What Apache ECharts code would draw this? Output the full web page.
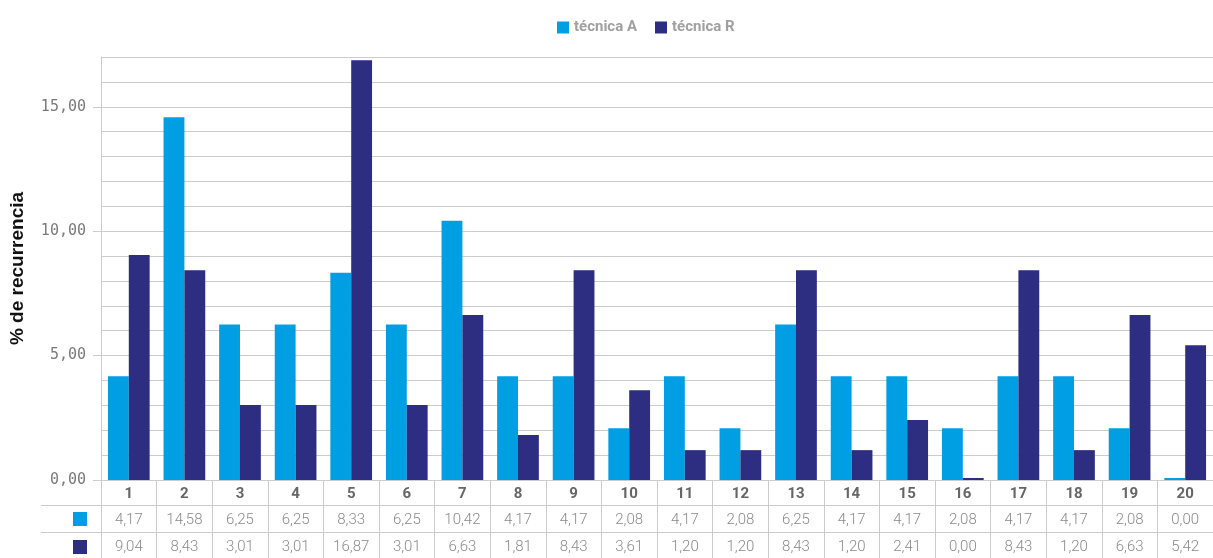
<!DOCTYPE html>
<html>
<head>
<meta charset="utf-8">
<script src="https://cdn.jsdelivr.net/npm/echarts@6/dist/echarts.min.js"></script>
<style>
  html, body { margin: 0; padding: 0; background: #fff; }
  #chart { width: 1213px; height: 558px; }
</style>
</head>
<body>
<div id="chart"></div>
<script>
// Recurrence (%) per position for the two techniques
const categories = ['1','2','3','4','5','6','7','8','9','10','11','12','13','14','15','16','17','18','19','20'];
const tecnicaA = [4.17, 14.58, 6.25, 6.25, 8.33, 6.25, 10.42, 4.17, 4.17, 2.08, 4.17, 2.08, 6.25, 4.17, 4.17, 2.08, 4.17, 4.17, 2.08, 0.00];
const tecnicaR = [9.04, 8.43, 3.01, 3.01, 16.87, 3.01, 6.63, 1.81, 8.43, 3.61, 1.20, 1.20, 8.43, 1.20, 2.41, 0.00, 8.43, 1.20, 6.63, 5.42];
const yTickValues = [0, 5, 10, 15];
const seriesNames = ['técnica A', 'técnica R'];
const yAxisTitle = '% de recurrencia';

const COLOR_A = '#009fe3';
const COLOR_R = '#2d2d82';
const GRID_COLOR = '#cccccc';

const fmt = v => v.toFixed(2).replace('.', ',');

const chart = echarts.init(document.getElementById('chart'), null, { renderer: 'canvas' });

chart.setOption({
  animation: false,
  color: [COLOR_A, COLOR_R],
  legend: {
    left: 552,
    top: 15,
    itemWidth: 12,
    itemHeight: 12,
    itemGap: 18,
    icon: 'rect',
    textStyle: { color: '#a0a0a0', fontFamily: 'Roboto', fontWeight: 'bold', fontSize: 15 },
    data: seriesNames
  },
  grid: { left: 101, right: 0, top: 57, bottom: 78 },
  xAxis: {
    type: 'category',
    data: categories,
    axisLine: { show: false },
    axisTick: { show: true, interval: 0, length: 78, lineStyle: { color: GRID_COLOR } },
    axisLabel: {
      interval: 0,
      margin: 1,
      formatter: (value, idx) =>
        '{n|' + value + '}\n{v|' + fmt(tecnicaA[idx]) + '}\n{v|' + fmt(tecnicaR[idx]) + '}',
      rich: {
        n: { fontFamily: 'Roboto', fontWeight: 'bold', fontSize: 15, color: '#666', lineHeight: 26 },
        v: { fontFamily: 'Roboto', fontWeight: 300, fontSize: 15, color: '#8a8a8a', lineHeight: 27 }
      }
    }
  },
  yAxis: [
    {
      type: 'value', min: 0, max: 17, interval: 1,
      axisLine: { show: false }, axisTick: { show: false }, axisLabel: { show: false },
      splitLine: { show: true, lineStyle: { color: GRID_COLOR, width: 1 } }
    },
    {
      type: 'value', min: 0, max: 17, interval: 5, position: 'left',
      name: yAxisTitle,
      nameLocation: 'middle',
      nameGap: 74,
      nameTextStyle: { fontFamily: 'Liberation Sans', fontWeight: 'bold', fontSize: 19, color: '#111' },
      axisLine: { show: true, lineStyle: { color: GRID_COLOR } },
      axisTick: { show: true, length: 8, customValues: yTickValues, lineStyle: { color: GRID_COLOR } },
      splitLine: { show: false },
      axisLabel: {
        margin: 15,
        customValues: yTickValues,
        formatter: v => fmt(v),
        fontFamily: 'DejaVu Sans Mono',
        fontSize: 15,
        color: '#7a7a7a'
      }
    }
  ],
  series: [
    {
      name: seriesNames[0], type: 'bar', data: tecnicaA, yAxisIndex: 0,
      barGap: '0%', barCategoryGap: '25%', barMinHeight: 2,
      itemStyle: { color: COLOR_A }
    },
    {
      name: seriesNames[1], type: 'bar', data: tecnicaR, yAxisIndex: 0,
      barGap: '0%', barCategoryGap: '25%', barMinHeight: 2,
      itemStyle: { color: COLOR_R }
    }
  ],
  graphic: [
    // table row separators and series keys in the left column
    { type: 'line', shape: { x1: 41, y1: 505.5, x2: 1213, y2: 505.5 }, style: { stroke: GRID_COLOR, lineWidth: 1 } },
    { type: 'line', shape: { x1: 41, y1: 532.5, x2: 1213, y2: 532.5 }, style: { stroke: GRID_COLOR, lineWidth: 1 } },
    { type: 'rect', shape: { x: 73, y: 512, width: 14, height: 14 }, style: { fill: COLOR_A } },
    { type: 'rect', shape: { x: 73, y: 540, width: 14, height: 14 }, style: { fill: COLOR_R } }
  ]
});
</script>
</body>
</html>
